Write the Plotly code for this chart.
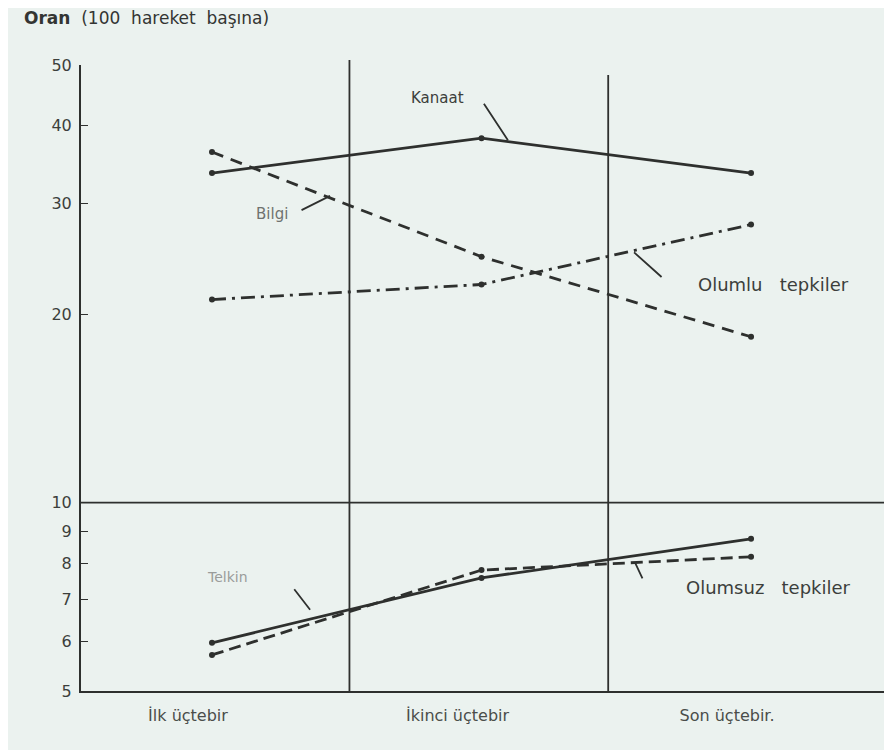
import plotly.graph_objects as go
import math

categories = ["İlk üçtebir", "İkinci üçtebir", "Son üçtebir."]
xpos = [0, 1, 2]
kanaat = [33.6, 38.2, 33.6]
bilgi = [36.3, 24.7, 18.4]
olumlu = [21.1, 22.3, 27.8]
telkin = [5.97, 7.58, 8.75]
olumsuz = [5.71, 7.8, 8.19]
y_ticks = [5, 6, 7, 8, 9, 10, 20, 30, 40, 50]

ink = "#2e302e"
bg = "#ebf2ef"
FONT = "DejaVu Sans, Liberation Sans, sans-serif"

fig = go.Figure()

def add(vals, dash, name, width=2.8):
    fig.add_trace(go.Scatter(
        x=xpos, y=vals, mode="lines+markers", name=name,
        line=dict(color=ink, width=width, dash=dash),
        marker=dict(color=ink, size=6),
        showlegend=False))

add(kanaat, "solid", "Kanaat")
add(bilgi, "12px,8px", "Bilgi")
add(olumlu, "14px,6px,3px,6px", "Olumlu tepkiler")
add(telkin, "solid", "Telkin")
add(olumsuz, "12px,6px", "Olumsuz tepkiler")

# frame / divider lines
for xv, ytop in [(0.51, 1.008), (1.47, 0.984)]:
    fig.add_shape(type="line", xref="x", yref="paper", x0=xv, x1=xv, y0=0, y1=ytop,
                  line=dict(color=ink, width=1.8))
fig.add_shape(type="line", xref="paper", yref="paper", x0=1, x1=1, y0=0, y1=0.95,
              line=dict(color=ink, width=1.8))
fig.add_shape(type="line", xref="paper", yref="y", x0=0, x1=1, y0=10, y1=10,
              line=dict(color=ink, width=1.8))

def note(text, x, y, tail, text_off, color="#3c3f3c", size=16):
    ly = math.log10(y)
    # short arrow from tail to tip
    fig.add_annotation(x=x, y=ly, xref="x", yref="y", text="",
                       showarrow=True, arrowhead=0, arrowwidth=1.8, arrowcolor=ink,
                       ax=tail[0], ay=tail[1], standoff=0)
    # label
    fig.add_annotation(x=x, y=ly, xref="x", yref="y", text=text, showarrow=False,
                       xshift=text_off[0], yshift=-text_off[1],
                       font=dict(size=size, color=color, family=FONT))

note("Kanaat", 1.098, 37.9, (-25, -38), (-70, -42), size=15)
note("Bilgi", 0.438, 30.9, (-30, 15), (-58, 18), color="#6f726f", size=15)
note("Olumlu   tepkiler", 1.566, 25.1, (29, 26), (139, 32), size=18)
note("Telkin", 0.364, 6.74, (-17, -22), (-83, -33), color="#9a9c9a", size=14)
note("Olumsuz   tepkiler", 1.57, 8.01, (8, 17), (133, 25), size=18)

fig.add_annotation(xref="paper", yref="paper", x=-0.073, y=1.075, xanchor="left",
                   yanchor="middle", showarrow=False,
                   text="<b>Oran</b>  (100  hareket  başına)",
                   font=dict(size=17, color="#333533", family=FONT))

fig.update_layout(
    width=892, height=750,
    margin=dict(l=73, r=15, t=57, b=67),
    paper_bgcolor=bg, plot_bgcolor=bg,
    font=dict(family=FONT, color="#3c3f3c", size=15),
    xaxis=dict(range=[-0.486, 2.497], tickvals=xpos, ticktext=categories,
               showgrid=False, zeroline=False, showline=True, linecolor=ink,
               linewidth=2, ticks="", ticklabelshift=-24, ticklabelstandoff=9,
               tickfont=dict(size=16, color="#4a4d4a"), automargin=False),
    yaxis=dict(type="log", range=[math.log10(5), math.log10(50)], tickvals=y_ticks,
               ticktext=[str(v) for v in y_ticks], showgrid=False, zeroline=False,
               showline=True, linecolor=ink, linewidth=2, ticks="inside",
               ticklen=7, tickcolor=ink, tickfont=dict(size=16),
               ticklabelstandoff=4, automargin=False),
)

fig.write_html("out.html")
